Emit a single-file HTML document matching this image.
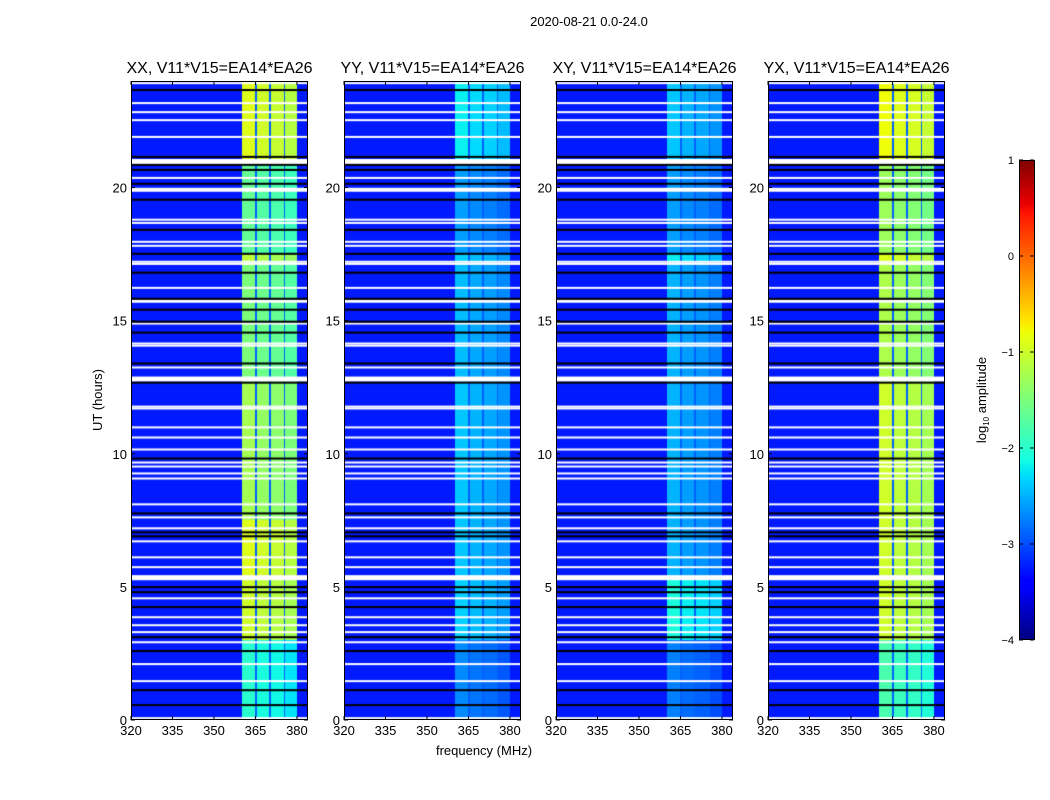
<!DOCTYPE html>
<html><head><meta charset="utf-8">
<style>
body{margin:0;background:#fff;}
#wrap{position:relative;width:1050px;height:800px;overflow:hidden;background:#fff;font-family:"Liberation Sans",sans-serif;}
canvas{position:absolute;}
svg{position:absolute;left:0;top:0;}
</style></head>
<body>
<div id="wrap">
<canvas id="c0" width="177" height="639" style="left:131px;top:81px"></canvas>
<canvas id="c1" width="177" height="639" style="left:344px;top:81px"></canvas>
<canvas id="c2" width="177" height="639" style="left:556px;top:81px"></canvas>
<canvas id="c3" width="177" height="639" style="left:768px;top:81px"></canvas>
<canvas id="cb" width="15" height="480" style="left:1019px;top:160px"></canvas>
<svg id="ax" width="1050" height="800"></svg>
</div>
<script>
// ---- data ----
const panelTitles = ["XX, V11*V15=EA14*EA26","YY, V11*V15=EA14*EA26","XY, V11*V15=EA14*EA26","YX, V11*V15=EA14*EA26"];
const xTicks = [320,335,350,365,380];
const yTicks = [0,5,10,15,20];
const cbTicks = [-4,-3,-2,-1,0,1];
const segmentEdges = [0,3,5.4,7.5,12.7,17.2,17.5,20.9,24];
const bandXX = [-2.1,-1.1,-1.0,-1.35,-1.6,-1.2,-1.75,-1.0];
const bandYY = [-2.8,-2.45,-2.5,-2.5,-2.55,-2.45,-2.7,-2.3];
const bandXY = [-2.85,-2.2,-2.6,-2.6,-2.6,-2.3,-2.7,-2.5];
const bandYX = [-1.9,-1.1,-1.1,-1.1,-1.3,-1.0,-1.4,-0.9];
const subbandEdges = [[360.3,364.8],[365.4,369.8],[370.6,375.2],[375.8,380.0]];
const subbandOffset = [0.1,0.0,-0.05,-0.15];
const backgroundLevel = -3.25;
const gapLevel = -2.9;
const whiteThin = [23.92,23.17,22.83,22.53,21.9,20.36,18.79,18.67,17.96,17.81,17.21,17.13,16.23,15.75,15.71,14.89,14.14,14.06,13.24,11.77,11.7,10.99,10.61,10.16,9.67,9.52,9.26,9.07,8.1,7.61,7.2,6.71,6.11,5.74,4.57,3.86,3.56,3.3,2.92,2.1,1.46,0.07];
const whiteThick = [[20.88,21.07],[19.84,19.99],[12.71,12.9],[5.25,5.44]];
const blackThin = [23.66,21.15,20.85,20.66,20.14,19.54,18.41,17.51,16.8,15.82,15.41,14.96,14.55,13.39,12.67,9.82,7.76,7.05,6.9,4.99,4.8,4.24,3.11,2.59,1.12,0.56];
const bands = [bandXX,bandYY,bandXY,bandYX];

// ---- scales ----
const W=177,H=639,fMin=320,fMax=384,tMin=0,tMax=24;
const panelLeft=[131,344,556,768], plotTop=81;
function xs(f){return (f-fMin)/(fMax-fMin)*W;}
function ys(t){return H-(t-tMin)/(tMax-tMin)*H;}
function fOf(px){return fMin+(px+0.5)/W*(fMax-fMin);}
function tOf(py){return tMax-(py+0.5)/H*(tMax-tMin);}
function clamp(v){return Math.max(0,Math.min(1,v));}
function jet(v){
  const t=clamp((v+4)/5);
  let r=t<0.35?0:t<0.66?(t-0.35)/0.31:t<0.89?1:1-(t-0.89)/0.11*0.5;
  let g=t<0.125?0:t<0.375?(t-0.125)/0.25:t<0.64?1:t<0.91?1-(t-0.64)/0.27:0;
  let b=t<0.11?0.5+t/0.11*0.5:t<0.34?1:t<0.65?1-(t-0.34)/0.31:0;
  return `rgb(${Math.round(clamp(r)*255)},${Math.round(clamp(g)*255)},${Math.round(clamp(b)*255)})`;
}
function valueAt(p,f,t){
  let seg=0;
  for(let i=0;i<segmentEdges.length-1;i++){if(t>=segmentEdges[i]&&t<segmentEdges[i+1])seg=i;}
  for(let s=0;s<subbandEdges.length;s++){
    if(f>=subbandEdges[s][0]&&f<subbandEdges[s][1]) return bands[p][seg]+subbandOffset[s];
  }
  if(f>=subbandEdges[0][0]&&f<subbandEdges[3][1]) return gapLevel;
  return backgroundLevel;
}
for(let p=0;p<4;p++){
  const ctx=document.getElementById('c'+p).getContext('2d');
  for(let py=0;py<H;py++){
    const t=tOf(py);
    let x0=0,prev=null;
    for(let px=0;px<=W;px++){
      const col=px<W?jet(valueAt(p,fOf(px),t)):null;
      if(col!==prev){ if(prev){ctx.fillStyle=prev;ctx.fillRect(x0,py,px-x0,1);} x0=px;prev=col;}
    }
  }
  ctx.fillStyle='#fff';
  whiteThin.forEach(t=>ctx.fillRect(0,ys(t)-1,W,2));
  whiteThick.forEach(r=>ctx.fillRect(0,ys(r[1]),W,ys(r[0])-ys(r[1])));
  ctx.fillStyle='#000';
  blackThin.forEach(t=>ctx.fillRect(0,ys(t)-1,W,2));
}
// colorbar
(function(){
  const ctx=document.getElementById('cb').getContext('2d');
  for(let y=0;y<480;y++){ctx.fillStyle=jet(1-(y+0.5)/480*5);ctx.fillRect(0,y,15,1);}
})();

// ---- axes ----
const svg=document.getElementById('ax');
const NS='http://www.w3.org/2000/svg';
function el(tag,attrs,txt){const e=document.createElementNS(NS,tag);for(const k in attrs)e.setAttribute(k,attrs[k]);if(txt!==undefined)e.textContent=txt;svg.appendChild(e);return e;}
const sup=el('text',{x:589,y:26,'text-anchor':'middle','font-size':13,fill:'#000'},'2020-08-21 0.0-24.0');


for(let p=0;p<4;p++){
  const L=panelLeft[p];
  const tt=el('text',{x:L+W/2,y:73,'text-anchor':'middle','font-size':16,fill:'#000'},panelTitles[p]);
  
  
  const fr=el('rect',{x:L+0.5,y:plotTop+0.5,width:W-1,height:H-1,fill:'none',stroke:'#000','stroke-width':1});
  
  
  xTicks.forEach(v=>{
    const x=L+xs(v);
    el('line',{x1:x,x2:x,y1:plotTop+H,y2:plotTop+H-4,stroke:'#000'});
    el('line',{x1:x,x2:x,y1:plotTop,y2:plotTop+4,stroke:'#000'});
    const lb=el('text',{x:x,y:plotTop+H+15,'text-anchor':'middle','font-size':13,fill:'#000'},String(v));
    
    
  });
  yTicks.forEach(v=>{
    const y=plotTop+ys(v);
    el('line',{x1:L,x2:L+4,y1:y,y2:y,stroke:'#000'});
    el('line',{x1:L+W-4,x2:L+W,y1:y,y2:y,stroke:'#000'});
    const lb=el('text',{x:L-4,y:y+5,'text-anchor':'end','font-size':13,fill:'#000'},String(v));
    
    
  });
}
const yl=el('text',{x:102,y:400,'text-anchor':'middle','font-size':13,fill:'#000',transform:'rotate(-90 102 400)'},'UT (hours)');


const xl=el('text',{x:484,y:755,'text-anchor':'middle','font-size':13,fill:'#000'},'frequency (MHz)');


const cbf=el('rect',{x:1019.5,y:160.5,width:15,height:479,fill:'none',stroke:'#000'});


cbTicks.forEach(v=>{
  const y=160+(1-v)/5*480;
  el('line',{x1:1019,x2:1023,y1:y,y2:y,stroke:'#000'});
  el('line',{x1:1030,x2:1034,y1:y,y2:y,stroke:'#000'});
  const lb=el('text',{x:1014,y:y+4,'text-anchor':'end','font-size':11,fill:'#000'},String(v).replace('-','\u2212'));
  
  
});
const cl=el('text',{x:986,y:400,'text-anchor':'middle','font-size':13,fill:'#000',transform:'rotate(-90 986 400)'});


const t1=document.createElementNS(NS,'tspan');t1.textContent='log';cl.appendChild(t1);
const t2=document.createElementNS(NS,'tspan');t2.setAttribute('font-size','8');t2.setAttribute('dy','3');t2.textContent='10';cl.appendChild(t2);
const t3=document.createElementNS(NS,'tspan');t3.setAttribute('dy','-3');t3.textContent=' amplitude';cl.appendChild(t3);
</script>
</body></html>
